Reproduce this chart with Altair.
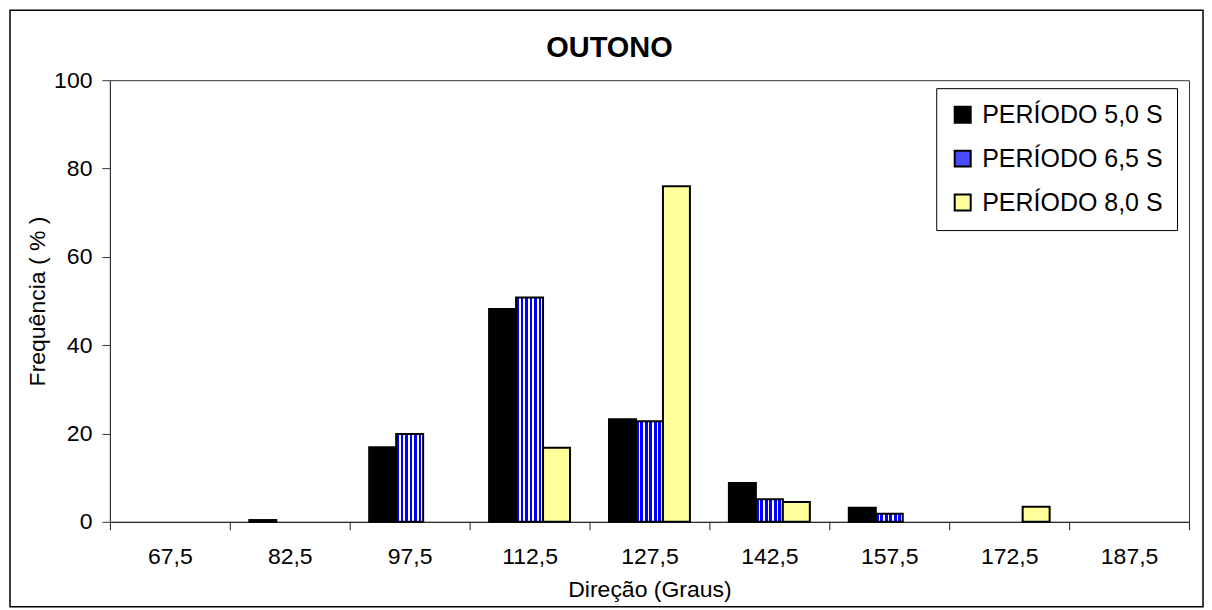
import altair as alt
import pandas as pd

directions = ["67,5", "82,5", "97,5", "112,5", "127,5", "142,5", "157,5", "172,5", "187,5"]
series_names = ["PERÍODO 5,0 S", "PERÍODO 6,5 S", "PERÍODO 8,0 S"]
p50 = [0, 0.4, 16.9, 48.2, 23.2, 8.8, 3.2, 0, 0]
p65 = [0, 0, 19.9, 50.8, 22.8, 5.1, 1.8, 0, 0]
p80 = [0, 0, 0, 16.8, 76.0, 4.5, 0, 3.4, 0]
colors = ["#000000", "#4a4aff", "#ffff99"]
chart_title = "OUTONO"

rows = []
for s, vals in zip(series_names, [p50, p65, p80]):
    for d, v in zip(directions, vals):
        rows.append({"dir": d, "serie": s, "v": v})
df = pd.DataFrame(rows)

W, H = 1080, 442
FONT = "Liberation Sans"


def stripes(n, frac=0.62):
    st = []
    for i in range(n):
        a = i / n
        b = (i + frac) / n
        c = (i + 1) / n
        st += [
            {"offset": a, "color": "#0000ff"},
            {"offset": b, "color": "#0000ff"},
            {"offset": b, "color": "#ffffff"},
            {"offset": c, "color": "#ffffff"},
        ]
    return {"gradient": "linear", "x1": 0, "x2": 1, "y1": 0, "y2": 0, "stops": st}


bar_pattern = stripes(6)

border = alt.Chart(alt.Data(values=[{}])).mark_rect(
    fill="transparent", stroke="#000000", strokeWidth=1.5
).encode(
    x=alt.value(-100), x2=alt.value(W + 14),
    y=alt.value(-70), y2=alt.value(H + 85),
)

title_mark = alt.Chart(alt.Data(values=[{"t": chart_title}])).mark_text(
    font=FONT, fontSize=29, fontWeight="bold", color="#000000",
    align="center", baseline="middle",
).encode(
    text="t:N", x=alt.value(W / 2 - 40), y=alt.value(-32),
)

bars = alt.Chart(df).transform_filter("datum.v > 0").mark_bar(
    stroke="#000000", strokeWidth=2
).encode(
    x=alt.X(
        "dir:N", sort=directions,
        scale=alt.Scale(domain=directions, paddingInner=0, paddingOuter=0),
        axis=alt.Axis(
            title="Direção (Graus)", labelAngle=0, tickBand="extent",
            tickSize=8, labelPadding=16, titlePadding=10,
            labelFontSize=23, titleFontSize=23, titleFontWeight="normal",
            domainColor="#222222", tickColor="#222222", labelColor="#000000",
            titleColor="#000000", grid=False,
        ),
    ),
    xOffset=alt.XOffset("serie:N", sort=series_names,
                        scale=alt.Scale(domain=series_names, paddingInner=0, paddingOuter=0.722)),
    y=alt.Y(
        "v:Q", scale=alt.Scale(domain=[0, 100]),
        axis=alt.Axis(
            values=[0, 20, 40, 60, 80, 100], title="Frequência ( % )",
            grid=False, tickSize=8, labelPadding=10, titlePadding=4,
            labelFontSize=23, titleFontSize=23, titleFontWeight="normal",
            domainColor="#333333", tickColor="#333333", labelColor="#000000",
            titleColor="#000000",
        ),
    ),
    fill=alt.condition(
        alt.datum.serie == "PERÍODO 6,5 S",
        alt.value(bar_pattern),
        alt.Fill(
            "serie:N",
            scale=alt.Scale(domain=series_names, range=colors),
            legend=alt.Legend(
                title=None, orient="none", legendX=827, legendY=8,
                fillColor="#ffffff", strokeColor="#000000", padding=14,
                rowPadding=18, symbolType="square", symbolSize=256,
                symbolStrokeWidth=2, symbolStrokeColor="#000000",
                symbolOpacity=1,
                labelFontSize=25, labelFont=FONT, labelLimit=400, labelOffset=7,
                labelColor="#000000",
            ),
        ),
    ),
)

chart = alt.layer(border, title_mark, bars).properties(
    width=W, height=H,
    padding={"left": 1, "top": 1, "right": 0, "bottom": 0},
).configure(font=FONT).configure_view(stroke="#333333", strokeWidth=1)

chart.save("out.html", embed_options={"renderer": "svg", "actions": False})
